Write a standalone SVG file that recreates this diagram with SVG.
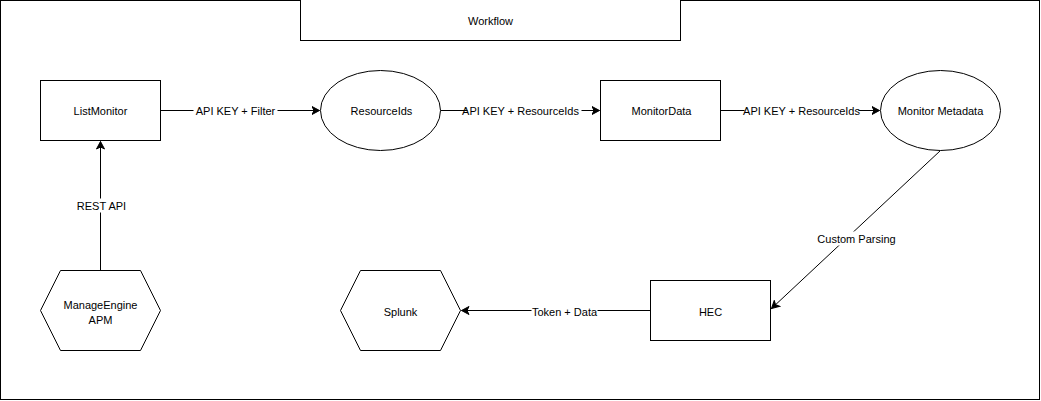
<svg xmlns="http://www.w3.org/2000/svg" width="1041" height="401" viewBox="0 0 1041 401">
<style>
.shape{fill:#fff;stroke:#000;stroke-width:1}
.edge{fill:none;stroke:#000;stroke-width:1}
.lbl{font-family:"Liberation Sans",Arial,sans-serif;font-size:11px;fill:#000;text-anchor:middle;dominant-baseline:central}
.elbl{font-family:"Liberation Sans",Arial,sans-serif;font-size:11px;fill:#000;text-anchor:middle;dominant-baseline:central}
.bg{fill:#fff;stroke:none}
</style>
<defs>
<marker id="arr" markerUnits="userSpaceOnUse" markerWidth="10" markerHeight="10" viewBox="-8 -5 10 10" refX="0" refY="0" orient="auto">
<path d="M0,0 L-7.5,-4 L-5.5,0 L-7.5,4 Z" fill="#000" stroke="#000" stroke-width="1"/>
</marker>
</defs>
<rect width="1041" height="401" fill="#fff"/>
<g transform="translate(0.5,0.5)">
<rect id="frame" x="0" y="0" width="1039" height="399" fill="none" stroke="#000"/>
<g id="workflow"><rect class="shape" x="300" y="-1" width="380" height="41"/><text class="lbl" x="490" y="20">Workflow</text></g>
<g id="connectors">
<line class="edge" x1="160" y1="110" x2="319" y2="110" marker-end="url(#arr)"/>
<rect class="bg" x="193" y="103" width="84" height="14"/>
<text class="elbl" x="235" y="110">API KEY + Filter</text>
<line class="edge" x1="440" y1="110" x2="599" y2="110" marker-end="url(#arr)"/>
<rect class="bg" x="467" y="103" width="114" height="14"/>
<text class="elbl" x="520" y="110">API KEY + ResourceIds</text>
<line class="edge" x1="720" y1="110" x2="879" y2="110" marker-end="url(#arr)"/>
<rect class="bg" x="744" y="103" width="114" height="14"/>
<text class="elbl" x="801" y="110">API KEY + ResourceIds</text>
<line class="edge" x1="940" y1="150" x2="771" y2="308" marker-end="url(#arr)"/>
<rect class="bg" x="817" y="231" width="78" height="14"/>
<text class="elbl" x="856" y="238">Custom Parsing</text>
<line class="edge" x1="650" y1="310" x2="461" y2="310" marker-end="url(#arr)"/>
<rect class="bg" x="531" y="303" width="66" height="14"/>
<text class="elbl" x="564" y="311">Token + Data</text>
<line class="edge" x1="100" y1="270" x2="100" y2="141" marker-end="url(#arr)"/>
<rect class="bg" x="78" y="198" width="46" height="14"/>
<text class="elbl" x="101" y="205">REST API</text>
</g>
<g id="listmonitor"><rect class="shape" x="40" y="80" width="120" height="60"/><text class="lbl" x="100" y="110">ListMonitor</text></g>
<g id="resourceids"><ellipse class="shape" cx="380" cy="110" rx="60" ry="40"/><text class="lbl" x="381" y="110">ResourceIds</text></g>
<g id="monitordata"><rect class="shape" x="600" y="80" width="120" height="60"/><text class="lbl" x="661" y="110">MonitorData</text></g>
<g id="monitormetadata"><ellipse class="shape" cx="940" cy="110" rx="60" ry="40"/><text class="lbl" x="940" y="110">Monitor Metadata</text></g>
<g id="hec"><rect class="shape" x="650" y="280" width="120" height="60"/><text class="lbl" x="710" y="311">HEC</text></g>
<g id="splunk"><polygon class="shape" points="340,310 360,270 440,270 460,310 440,350 360,350"/><text class="lbl" x="400" y="311">Splunk</text></g>
<g id="manageengine"><polygon class="shape" points="40,310 60,270 140,270 160,310 140,350 60,350"/><text class="lbl" x="100" y="304">ManageEngine</text><text class="lbl" x="100" y="319">APM</text></g>
</g>
</svg>
